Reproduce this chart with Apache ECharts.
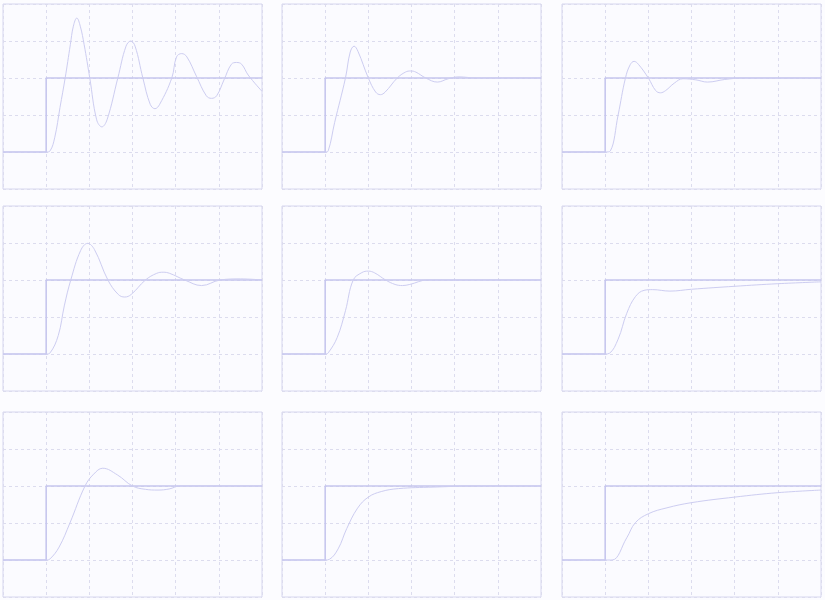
<!DOCTYPE html>
<html>
<head>
<meta charset="utf-8">
<script src="https://cdn.jsdelivr.net/npm/echarts@6/dist/echarts.min.js"></script>
<style>
html, body { margin: 0; padding: 0; background: #fcfcff; }
#main { width: 825px; height: 600px; }
</style>
</head>
<body>
<div id="main"></div>
<script>
// setpoint step (same in every panel)
var stepX = [0, 1, 1, 6];
var stepY = [1, 1, 3, 3];

// measured responses, one pair of arrays per panel (row by row)
var resp1X = [0, 1, 1.09, 1.2, 1.32, 1.44, 1.56, 1.63, 1.71, 1.79, 1.88, 2.01, 2.17, 2.29, 2.41, 2.66, 2.85, 2.96, 3.06, 3.24, 3.41, 3.52, 3.63, 3.91, 4.02, 4.14, 4.26, 4.48, 4.71, 4.83, 4.95, 5.12, 5.29, 5.41, 5.53, 5.68, 6];
var resp1Y = [1, 1, 1.03, 1.4, 2.2, 3.0, 3.9, 4.4, 4.62, 4.4, 3.9, 3.0, 1.87, 1.68, 1.87, 3.0, 3.86, 4.0, 3.86, 3.0, 2.29, 2.17, 2.29, 3.0, 3.57, 3.66, 3.57, 3.05, 2.52, 2.45, 2.52, 2.95, 3.37, 3.42, 3.37, 3.08, 2.64];

var resp2X = [0, 1, 1.07, 1.22, 1.47, 1.58, 1.67, 1.76, 2.0, 2.17, 2.28, 2.39, 2.67, 2.86, 2.98, 3.1, 3.33, 3.6, 3.85, 4.1, 4.5, 6];
var resp2Y = [1, 1, 1.03, 1.8, 3.0, 3.7, 3.86, 3.72, 3.0, 2.62, 2.55, 2.62, 3.0, 3.16, 3.19, 3.16, 3.0, 2.89, 2.98, 3.03, 3.0, 3.0];

var resp3X = [0, 1, 1.12, 1.3, 1.47, 1.58, 1.67, 1.77, 2.0, 2.17, 2.28, 2.4, 2.6, 2.8, 3.1, 3.37, 3.77, 4.2, 6];
var resp3Y = [1, 1, 1.03, 2.0, 3.0, 3.36, 3.45, 3.37, 3.0, 2.66, 2.6, 2.66, 2.86, 2.98, 2.95, 2.89, 2.96, 3.0, 3.0];

var resp4X = [0, 1, 1.09, 1.28, 1.42, 1.57, 1.8, 1.96, 2.12, 2.43, 2.67, 2.82, 2.97, 3.3, 3.56, 3.71, 3.86, 4.21, 4.6, 5.03, 5.5, 6];
var resp4Y = [1, 1, 1.03, 1.5, 2.3, 3.0, 3.8, 3.99, 3.82, 3.0, 2.61, 2.54, 2.61, 3.0, 3.18, 3.21, 3.18, 3.0, 2.85, 3.0, 3.03, 3.0];

var resp5X = [0, 1, 1.07, 1.28, 1.47, 1.65, 1.85, 2.0, 2.15, 2.4, 2.62, 2.79, 2.96, 3.37, 4, 6];
var resp5Y = [1, 1, 1.03, 1.45, 2.17, 3.0, 3.2, 3.24, 3.19, 3.0, 2.88, 2.85, 2.88, 3.0, 3.0, 3.0];

var resp6X = [0, 1, 1.1, 1.3, 1.5, 1.7, 1.9, 2.1, 2.5, 3, 4, 5, 6];
var resp6Y = [1, 1, 1.02, 1.4, 2.1, 2.55, 2.72, 2.74, 2.7, 2.75, 2.83, 2.9, 2.95];

var resp7X = [0, 1, 1.09, 1.3, 1.55, 1.9, 2.1, 2.31, 2.65, 3.0, 3.3, 3.59, 3.85, 4.1, 6];
var resp7Y = [1, 1, 1.03, 1.35, 2.0, 3.0, 3.32, 3.48, 3.3, 3.0, 2.91, 2.89, 2.92, 3.0, 3.0];

var resp8X = [0, 1, 1.1, 1.3, 1.5, 1.75, 2.0, 2.3, 2.7, 3.5, 4.5, 6];
var resp8Y = [1, 1, 1.02, 1.3, 1.85, 2.4, 2.7, 2.85, 2.93, 2.97, 3.0, 3.0];

var resp9X = [0, 1, 1.16, 1.5, 1.7, 2.0, 2.43, 3, 4, 5, 6];
var resp9Y = [1, 1, 1.0, 1.6, 2.01, 2.25, 2.41, 2.55, 2.7, 2.82, 2.89];

var respX = [resp1X, resp2X, resp3X, resp4X, resp5X, resp6X, resp7X, resp8X, resp9X];
var respY = [resp1Y, resp2Y, resp3Y, resp4Y, resp5Y, resp6Y, resp7Y, resp8Y, resp9Y];

function pairs(xs, ys) {
  return xs.map(function (x, i) { return [x, ys[i]]; });
}

var lefts = [3, 282, 562];
var tops = [4, 206, 412];
var lineColor = '#c6c6ee';
var gridColor = '#dcdcee';

var grids = [], xAxes = [], yAxes = [], series = [];
for (var i = 0; i < 9; i++) {
  var col = i % 3, row = Math.floor(i / 3);
  grids.push({
    left: lefts[col], top: tops[row], width: 259, height: 185,
    show: true, borderColor: '#d6d6ef', borderWidth: 1, backgroundColor: '#fbfbff'
  });
  xAxes.push({
    type: 'value', gridIndex: i, min: 0, max: 6, interval: 1,
    axisLine: { show: false }, axisTick: { show: false }, axisLabel: { show: false },
    splitLine: { lineStyle: { color: gridColor, type: [3, 3] } }
  });
  yAxes.push({
    type: 'value', gridIndex: i, min: 0, max: 5, interval: 1,
    axisLine: { show: false }, axisTick: { show: false }, axisLabel: { show: false },
    splitLine: { lineStyle: { color: gridColor, type: [3, 3] } }
  });
  // step
  series.push({
    type: 'line', xAxisIndex: i, yAxisIndex: i, symbol: 'none', animation: false,
    lineStyle: { color: lineColor, width: 1.6 },
    data: pairs(stepX, stepY)
  });
  // response
  series.push({
    type: 'line', xAxisIndex: i, yAxisIndex: i, symbol: 'none', animation: false,
    smooth: 0.4,
    lineStyle: { color: '#cdcdf1', width: 1 },
    data: pairs(respX[i], respY[i])
  });
}

var chart = echarts.init(document.getElementById('main'));
chart.setOption({
  backgroundColor: '#fcfcff',
  grid: grids,
  xAxis: xAxes,
  yAxis: yAxes,
  series: series
});
</script>
</body>
</html>
